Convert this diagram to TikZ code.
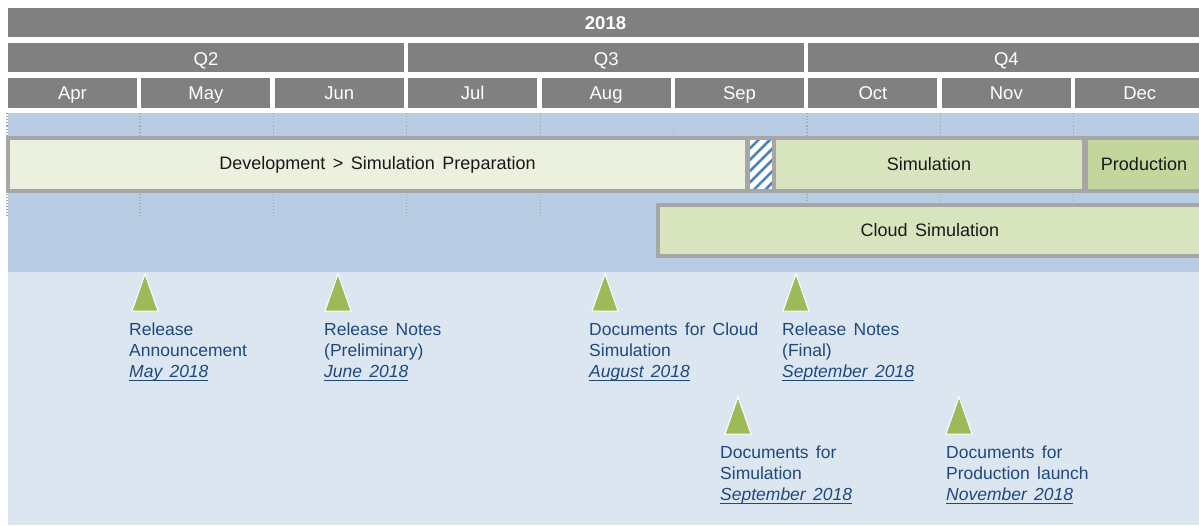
\documentclass[tikz,border=0pt]{standalone}
\usepackage{fontspec}
\setmainfont{Liberation Sans}[WordSpace=1.5]
\usetikzlibrary{positioning,patterns.meta}

\definecolor{hdrgray}{HTML}{808080}
\definecolor{bandblue}{HTML}{B8CCE4}
\definecolor{paleblue}{HTML}{DCE6F1}
\definecolor{devgreen}{HTML}{EBF1DE}
\definecolor{simgreen}{HTML}{D7E4BD}
\definecolor{prodgreen}{HTML}{C3D69B}
\definecolor{barline}{HTML}{A6A6A6}
\definecolor{msgreen}{HTML}{9BBB59}
\definecolor{mstext}{HTML}{1F497D}
\definecolor{hatchblue}{HTML}{4F81BD}

\newsavebox{\mdatebox}
\newcommand{\mdate}[1]{\sbox{\mdatebox}{\textit{#1}}\rlap{\rule[-3.5pt]{\wd\mdatebox}{1.3pt}}\usebox{\mdatebox}}

\tikzset{
  hdr/.style={fill=hdrgray, text=white, inner sep=0pt, minimum height=29pt,
    text height=13pt, text depth=0pt, font=\fontsize{18.5}{21}\selectfont},
  month/.style={hdr, minimum width=129pt, minimum height=30pt},
  quarter/.style={hdr, minimum width=396pt, text height=15pt},
  bar/.style={draw=barline, line width=4pt, text=black!90, inner sep=0pt,
    font=\fontsize{18}{21}\selectfont},
  mstone/.style={fill=msgreen, draw=white, line width=1pt},
  mtext/.style={text=mstext, align=left, anchor=north west, inner sep=0pt,
    font=\fontsize{17.5}{21}\selectfont},
  gridline/.style={draw=gray!70, dotted, line width=1.1pt}
}

\begin{document}
\begin{tikzpicture}[x=1pt, y=-1pt]
        \useasboundingbox[fill=white] (0,0) rectangle (1199,525);
        \clip (0,0) rectangle (1199,525);

        % background bands
        \fill[bandblue] (8,113) rectangle (1199,272);
        \fill[paleblue] (8,272) rectangle (1199,525);

        % header
        \node[hdr, minimum width=1195pt, font=\bfseries\fontsize{18.5}{21}\selectfont] (Y) at (605.5,22.5) {2018};
        \node[quarter] (Q2) at (206,57.5) {Q2};
        \node[quarter, node distance=400.2pt] (Q3) [right of = Q2] {Q3};
        \node[quarter, node distance=400.2pt] (Q4) [right of = Q3] {Q4};

        \begin{scope}[node distance=133.4pt]
        \node[month] (Apr) at (72.5,93) {Apr};
        \node[month] (May) [right of = Apr] {May};
        \node[month] (Jun) [right of = May] {Jun};
        \node[month] (Jul) [right of = Jun] {Jul};
        \node[month] (Aug) [right of = Jul] {Aug};
        \node[month] (Sep) [right of = Aug] {Sep};
        \node[month] (Oct) [right of = Sep] {Oct};
        \node[month] (Nov) [right of = Oct] {Nov};
        \node[month] (Dec) [right of = Nov] {Dec};
        \end{scope}

        % month grid
        \foreach \x in {7,140,273.4,406.8,540.2,807,940.4,1073.8}
            \draw[gridline] (\x,113) -- (\x,218);
        \draw[gridline] (673.6,131) -- (673.6,137);

        % bars
        \node[bar, fill=devgreen, minimum width=739pt, minimum height=53pt] (Dev) at (377.5,164.5)
            {Development\ > Simulation Preparation};
        \node[bar, fill=simgreen, minimum width=310pt, minimum height=53pt] (Sim) at (929,164.5) {Simulation};
        \node[bar, preaction={fill=white},
              pattern={Lines[angle=45, distance=8pt, line width=2.6pt]}, pattern color=hatchblue,
              minimum width=26pt, minimum height=53pt] (Gap) at (761,164.5) {};
        \node[bar, fill=prodgreen, minimum width=116pt, minimum height=53pt] (Prod) at (1144,164.5) {Production};
        \node[bar, fill=simgreen, minimum width=544pt, minimum height=51pt] (Cloud) at (930,230.5) {Cloud Simulation};

        % milestones
        \coordinate (m1) at (145,274);
        \coordinate (m2) at (338,274);
        \coordinate (m3) at (605,274);
        \coordinate (m4) at (796,274);
        \coordinate (m5) at (738,397);
        \coordinate (m6) at (959,397);
        \draw[mstone] (m1) -- ++(13,37) -- ++(-26,0) -- cycle;
        \draw[mstone] (m2) -- ++(13,37) -- ++(-26,0) -- cycle;
        \draw[mstone] (m3) -- ++(13,37) -- ++(-26,0) -- cycle;
        \draw[mstone] (m4) -- ++(13,37) -- ++(-26,0) -- cycle;
        \draw[mstone] (m5) -- ++(13,37) -- ++(-26,0) -- cycle;
        \draw[mstone] (m6) -- ++(13,37) -- ++(-26,0) -- cycle;

        \node[mtext] (t1) at ([xshift=-16pt, yshift=-49pt]m1) {Release\\Announcement\\\mdate{May 2018}};
        \node[mtext] (t2) at ([xshift=-14pt, yshift=-49pt]m2) {Release Notes\\(Preliminary)\\\mdate{June 2018}};
        \node[mtext] (t3) at ([xshift=-16pt, yshift=-49pt]m3) {Documents for Cloud\\Simulation\\\mdate{August 2018}};
        \node[mtext] (t4) at ([xshift=-14pt, yshift=-49pt]m4) {Release Notes\\(Final)\\\mdate{September 2018}};
        \node[mtext] (t5) at ([xshift=-18pt, yshift=-49pt]m5) {Documents for\\Simulation\\\mdate{September 2018}};
        \node[mtext] (t6) at ([xshift=-13pt, yshift=-49pt]m6) {Documents for\\Production launch\\\mdate{November 2018}};
    \end{tikzpicture}
\end{document}
